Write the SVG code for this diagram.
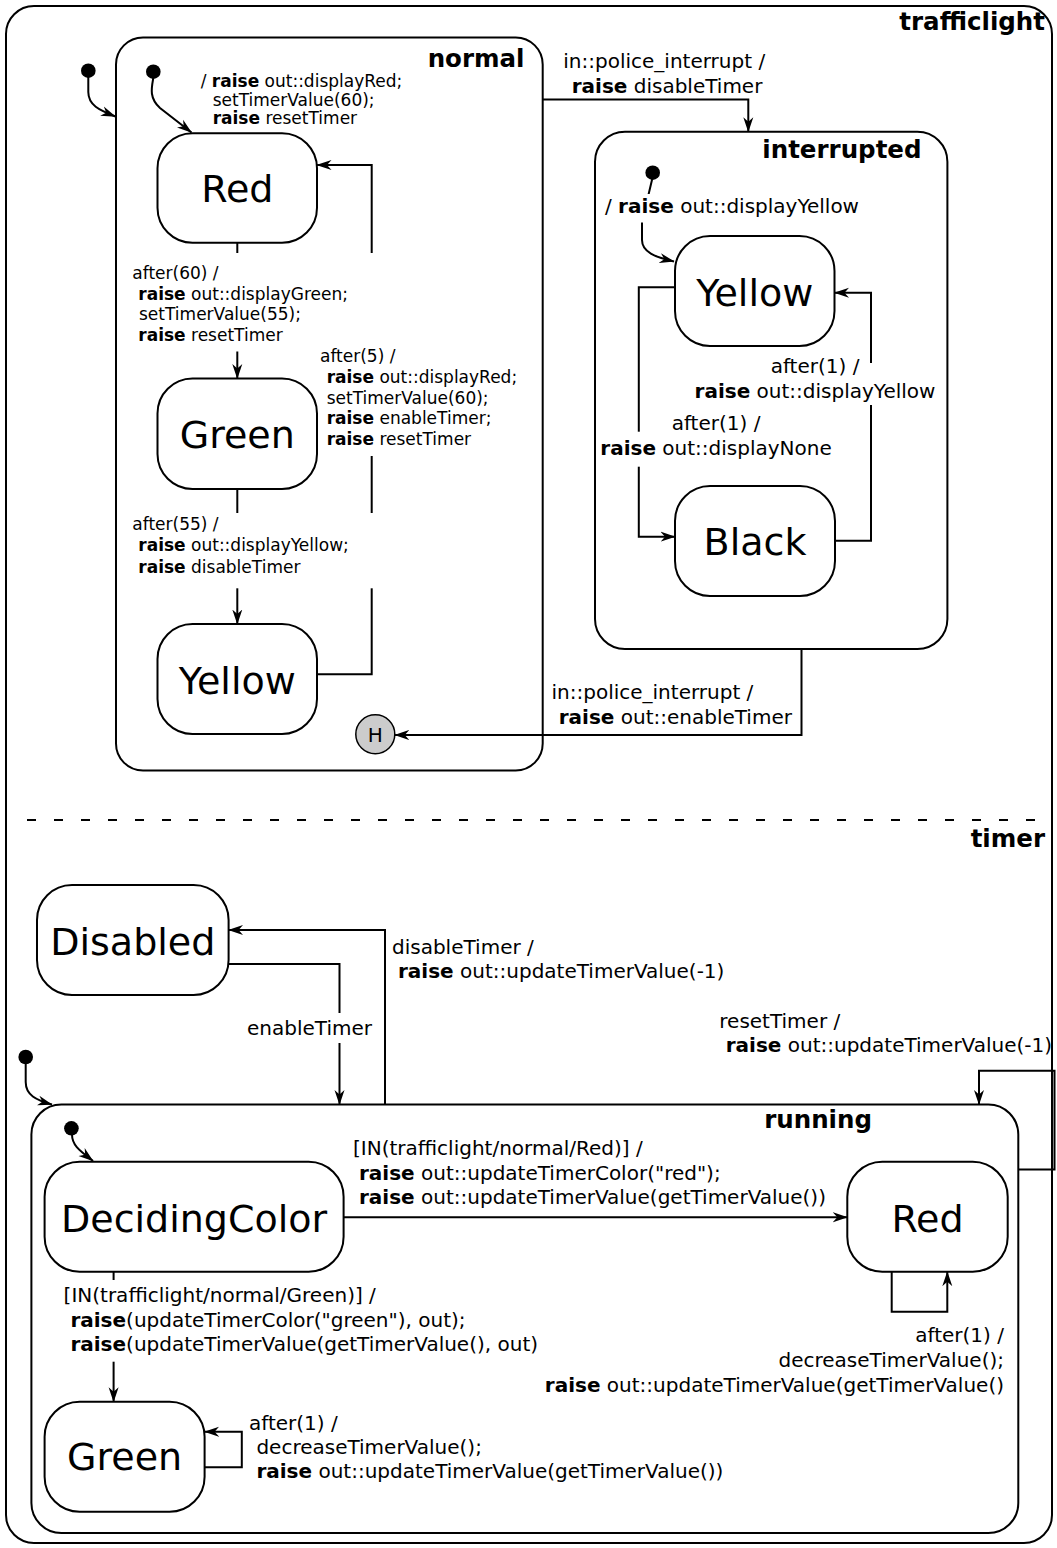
<svg xmlns="http://www.w3.org/2000/svg" width="1057" height="1548" viewBox="0 0 1057 1548">
<style>
text{font-family:"DejaVu Sans","Liberation Sans",sans-serif;fill:#000}
.box{fill:#fff;stroke:#000;stroke-width:2}
.st{font-size:38px;text-anchor:middle}
.ttl{font-size:24.5px;font-weight:bold;text-anchor:end}
.l17{font-size:17px}
.l20{font-size:20px}
.b{font-weight:bold}
.c{fill:none;stroke:#000;stroke-width:2}
.ca{fill:none;stroke:#000;stroke-width:2;marker-end:url(#arr)}
.bg{fill:#fff;stroke:none}
.dot{fill:#000}
</style>
<defs>
<marker id="arr" viewBox="0 0 15 11" refX="14.5" refY="5.5" markerWidth="15" markerHeight="11" orient="auto" markerUnits="userSpaceOnUse">
<path d="M0,0.5 L15,5.5 L0,10.5 L4.5,5.5 Z" fill="#000"/>
</marker>
</defs>

<g id="trafficlight">
<rect class="box" x="6" y="6" width="1046" height="1537" rx="28"/>
<text class="ttl" x="1045" y="30">trafficlight</text>
<path d="M27,820 L1052,820" stroke="#000" stroke-width="2" stroke-dasharray="9 18" fill="none"/>
<text class="ttl" x="1045" y="846.5">timer</text>
</g>

<g id="normal">
<rect class="box" x="116" y="37.5" width="426.7" height="733" rx="27"/>
<text class="ttl" x="524.5" y="66.5">normal</text>
</g>

<g id="interrupted">
<rect class="box" x="595" y="131.7" width="352.4" height="517.3" rx="30"/>
<text class="ttl" x="921.5" y="158.3">interrupted</text>
</g>

<g id="running">
<rect class="box" x="31.4" y="1104.5" width="986.9" height="428.5" rx="30"/>
<text class="ttl" x="872" y="1128">running</text>
</g>

<g id="init_trafficlight"><circle class="dot" cx="88.3" cy="70.7" r="7.3"/></g>
<g id="init_normal"><circle class="dot" cx="153.3" cy="71.7" r="7.3"/></g>
<g id="init_interrupted"><circle class="dot" cx="652.7" cy="172.7" r="7.3"/></g>
<g id="init_timer"><circle class="dot" cx="25.7" cy="1057" r="7.3"/></g>
<g id="init_running"><circle class="dot" cx="71.4" cy="1128.3" r="7.3"/></g>

<g id="normal_Red">
<rect class="box" x="157.5" y="133.3" width="159.5" height="109.5" rx="35"/>
<text class="st" x="237.3" y="202">Red</text>
</g>
<g id="normal_Green">
<rect class="box" x="157.5" y="378.5" width="159.5" height="110.5" rx="35"/>
<text class="st" x="237.3" y="448">Green</text>
</g>
<g id="normal_Yellow">
<rect class="box" x="157.5" y="624" width="159.5" height="110" rx="35"/>
<text class="st" x="237.3" y="693.5">Yellow</text>
</g>
<g id="normal_history">
<circle cx="375.3" cy="734.3" r="19.5" fill="#cccccc" stroke="#000" stroke-width="1.5"/>
<text x="375.3" y="741.5" font-size="20" text-anchor="middle">H</text>
</g>

<g id="interrupted_Yellow">
<rect class="box" x="675" y="236" width="159.5" height="110" rx="35"/>
<text class="st" x="754.8" y="305.5">Yellow</text>
</g>
<g id="interrupted_Black">
<rect class="box" x="675" y="486" width="160" height="110" rx="35"/>
<text class="st" x="755" y="555">Black</text>
</g>

<g id="timer_Disabled">
<rect class="box" x="37" y="885" width="191.6" height="110" rx="35"/>
<text class="st" x="132.8" y="954.5">Disabled</text>
</g>
<g id="running_DecidingColor">
<rect class="box" x="44.6" y="1161.7" width="299" height="110" rx="35"/>
<text class="st" x="194.1" y="1231.5">DecidingColor</text>
</g>
<g id="running_Red">
<rect class="box" x="847.3" y="1161.7" width="160.4" height="110" rx="35"/>
<text class="st" x="927.5" y="1231.5">Red</text>
</g>
<g id="running_Green">
<rect class="box" x="44.6" y="1401.7" width="160" height="110" rx="35"/>
<text class="st" x="124.6" y="1470">Green</text>
</g>

<g id="connectors">
<path class="ca" d="M88.3,77 L88.3,92 C88.3,105 99,110 115.5,116.5"/>
<path class="ca" d="M153.3,78 C151.5,88 149,98 160,108 L191.5,132.5"/>
<path class="ca" d="M652.2,179 L642,222 L642,240 C642,252 655,257 674,261.5"/>
<path class="ca" d="M25.7,1063 L25.7,1082 C25.7,1095 36,1100 52,1104.5"/>
<path class="ca" d="M72,1134.5 C72,1145 79,1150 93,1161"/>
<path class="ca" d="M237.3,242.8 L237.3,378.5"/>
<path class="ca" d="M237.3,489 L237.3,624"/>
<path class="ca" d="M317,674.3 L371.7,674.3 L371.7,165 L317,165"/>
<path class="ca" d="M542.7,99.5 L748.3,99.5 L748.3,131.7"/>
<path class="ca" d="M801.5,649 L801.5,735 L394.8,735"/>
<path class="ca" d="M675,287.3 L638.8,287.3 L638.8,536.7 L675,536.7"/>
<path class="ca" d="M835,540.7 L871,540.7 L871,292.7 L834.5,292.7"/>
<path class="ca" d="M385,1104.5 L385,930 L228.6,930"/>
<path class="ca" d="M228.6,964 L339.5,964 L339.5,1104.5"/>
<path class="ca" d="M1018.3,1169.5 L1054.5,1169.5 L1054.5,1070.7 L979,1070.7 L979,1104.5"/>
<path class="ca" d="M343.6,1217.3 L847.3,1217.3"/>
<path class="ca" d="M113.6,1271.7 L113.6,1401.7"/>
<path class="ca" d="M891.7,1271.7 L891.7,1311.7 L947.3,1311.7 L947.3,1271.7"/>
<path class="ca" d="M204.6,1467.3 L241.8,1467.3 L241.8,1431.7 L204.6,1431.7"/>
</g>

<g id="labels">
<g class="l17">
<text x="200.7" y="87"><tspan>/ </tspan><tspan class="b">raise</tspan> out::displayRed;</text>
<text x="212.7" y="105.5">setTimerValue(60);</text>
<text x="212.7" y="124"><tspan class="b">raise</tspan> resetTimer</text>

<rect class="bg" x="128" y="253" width="250" height="98.5"/>
<text x="132.3" y="279">after(60) /</text>
<text x="138.3" y="299.5"><tspan class="b">raise</tspan> out::displayGreen;</text>
<text x="139" y="320">setTimerValue(55);</text>
<text x="138.3" y="340.5"><tspan class="b">raise</tspan> resetTimer</text>

<rect class="bg" x="128" y="513" width="258" height="75.3"/>
<text x="132.3" y="530">after(55) /</text>
<text x="138.3" y="551"><tspan class="b">raise</tspan> out::displayYellow;</text>
<text x="138.3" y="572.5"><tspan class="b">raise</tspan> disableTimer</text>

<rect class="bg" x="319.5" y="342.7" width="205" height="113.3"/>
<text x="320" y="362">after(5) /</text>
<text x="326.7" y="383"><tspan class="b">raise</tspan> out::displayRed;</text>
<text x="326.7" y="403.5">setTimerValue(60);</text>
<text x="326.7" y="424"><tspan class="b">raise</tspan> enableTimer;</text>
<text x="326.7" y="445"><tspan class="b">raise</tspan> resetTimer</text>
</g>

<g class="l20">
<text x="563.3" y="68.3">in::police_interrupt /</text>
<text x="571.7" y="93.3"><tspan class="b">raise</tspan> disableTimer</text>

<rect class="bg" x="603" y="194" width="262" height="28.5"/>
<text x="605" y="213.3">/ <tspan class="b">raise</tspan> out::displayYellow</text>

<rect class="bg" x="690" y="363" width="250" height="42"/>
<text x="815" y="373.3" text-anchor="middle">after(1) /</text>
<text x="815" y="398.3" text-anchor="middle"><tspan class="b">raise</tspan> out::displayYellow</text>

<rect class="bg" x="596" y="431.7" width="240" height="35"/>
<text x="716" y="430" text-anchor="middle">after(1) /</text>
<text x="716" y="455" text-anchor="middle"><tspan class="b">raise</tspan> out::displayNone</text>

<text x="551.5" y="698.5">in::police_interrupt /</text>
<text x="558.7" y="723.5"><tspan class="b">raise</tspan> out::enableTimer</text>

<text x="392" y="954">disableTimer /</text>
<text x="398" y="978"><tspan class="b">raise</tspan> out::updateTimerValue(-1)</text>

<rect class="bg" x="245" y="1013" width="130" height="30"/>
<text x="247" y="1035">enableTimer</text>

<text x="719.3" y="1028">resetTimer /</text>
<text x="725.7" y="1052"><tspan class="b">raise</tspan> out::updateTimerValue(-1)</text>

<text x="353" y="1155">[IN(trafficlight/normal/Red)] /</text>
<text x="359" y="1180"><tspan class="b">raise</tspan> out::updateTimerColor("red");</text>
<text x="359" y="1204"><tspan class="b">raise</tspan> out::updateTimerValue(getTimerValue())</text>

<rect class="bg" x="60" y="1280" width="480" height="81.7"/>
<text x="63.6" y="1301.7">[IN(trafficlight/normal/Green)] /</text>
<text x="70.4" y="1326.7"><tspan class="b">raise</tspan>(updateTimerColor("green"), out);</text>
<text x="70.4" y="1350.7"><tspan class="b">raise</tspan>(updateTimerValue(getTimerValue(), out)</text>

<text x="1004" y="1341.7" text-anchor="end">after(1) /</text>
<text x="1004" y="1366.7" text-anchor="end">decreaseTimerValue();</text>
<text x="1004" y="1391.7" text-anchor="end"><tspan class="b">raise</tspan> out::updateTimerValue(getTimerValue()</text>

<text x="249" y="1430">after(1) /</text>
<text x="256.4" y="1454">decreaseTimerValue();</text>
<text x="256.4" y="1478.3"><tspan class="b">raise</tspan> out::updateTimerValue(getTimerValue())</text>
</g>
</g>
</svg>
